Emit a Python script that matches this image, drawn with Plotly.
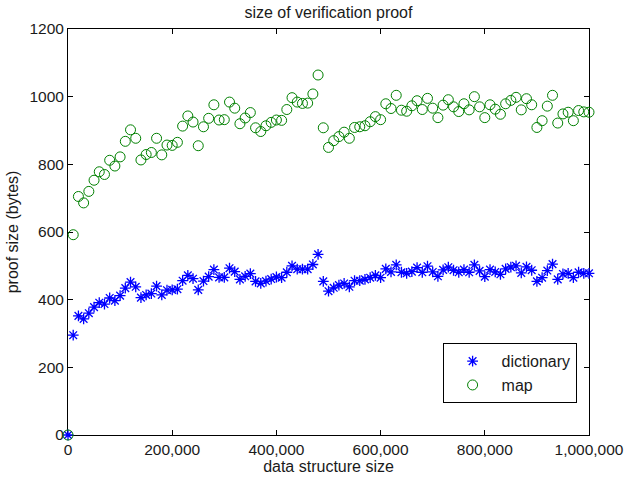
import plotly.graph_objects as go

sizes = [i * 10000 for i in range(101)]

dictionary = [0, 295, 352, 343, 360, 378, 391, 387, 405, 397,
              412, 434, 452, 438, 406, 414, 418, 440, 414, 428,
              429, 431, 456, 472, 462, 429, 455, 468, 489, 466,
              466, 493, 483, 460, 469, 477, 454, 448, 455, 461,
              467, 465, 481, 500, 490, 490, 490, 504, 534, 454,
              425, 435, 443, 448, 438, 456, 456, 460, 465, 472,
              465, 491, 482, 503, 481, 478, 483, 495, 481, 499,
              482, 469, 488, 496, 487, 481, 489, 481, 503, 485,
              468, 489, 482, 475, 491, 496, 500, 479, 497, 487,
              454, 465, 486, 505, 460, 476, 478, 465, 481, 478,
              478]

map_vals = [0, 592, 705, 686, 720, 753, 778, 770, 812, 795,
            822, 868, 902, 877, 813, 829, 835, 877, 828, 857,
            856, 865, 913, 943, 925, 855, 911, 936, 976, 931,
            932, 984, 966, 920, 937, 953, 908, 897, 914, 924,
            931, 930, 962, 997, 984, 980, 981, 1008, 1064, 908,
            850, 870, 882, 895, 877, 909, 911, 914, 926, 941,
            932, 979, 965, 1004, 960, 957, 973, 988, 962, 995,
            966, 938, 975, 991, 970, 956, 979, 961, 1000, 970,
            938, 976, 963, 948, 979, 989, 998, 961, 994, 976,
            909, 929, 972, 1004, 922, 949, 954, 929, 959, 955,
            954]

x_ticks = [0, 200000, 400000, 600000, 800000, 1000000]
y_ticks = [0, 200, 400, 600, 800, 1000, 1200]

font = dict(family="Liberation Sans, Arial, Helvetica, sans-serif", size=16, color="#1a1a1a")
tick_font = dict(family="Liberation Sans, Arial, Helvetica, sans-serif", size=15.5, color="#1a1a1a")

fig = go.Figure()
fig.add_trace(go.Scatter(
    x=sizes, y=dictionary, mode="markers", name="dictionary", cliponaxis=False,
    marker=dict(symbol="asterisk-open", size=9, color="#0000ff",
                line=dict(color="#0000ff", width=1.3)),
))
fig.add_trace(go.Scatter(
    x=sizes, y=map_vals, mode="markers", name="map", cliponaxis=False,
    marker=dict(symbol="circle-open", size=10, color="#008000",
                line=dict(color="#008000", width=1)),
))

axis_common = dict(
    showgrid=False, zeroline=False, showline=True, linecolor="black", linewidth=1,
    mirror="ticks", ticks="inside", ticklen=5, tickcolor="black", tickwidth=1,
    tickfont=tick_font, automargin=False, layer="below traces",
)

fig.update_layout(
    width=627, height=480,
    margin=dict(l=68, r=38, t=29, b=45, autoexpand=False),
    paper_bgcolor="white", plot_bgcolor="white",
    font=font,
    title=dict(text="size of verification proof", x=0.5238, xanchor="center",
               y=1 - 12 / 480, yanchor="middle", font=font, automargin=False),
    xaxis=dict(range=[0, 1000000], tickvals=x_ticks,
               ticktext=[f"{v:,}" for v in x_ticks],
               title=dict(text="data structure size", font=font, standoff=2),
               **axis_common),
    yaxis=dict(range=[0, 1200], tickvals=y_ticks,
               ticktext=[str(v) for v in y_ticks],
               title=dict(text="proof size (bytes)", font=font, standoff=6),
               **axis_common),
    legend=dict(x=0.719, y=0.226, xanchor="left", yanchor="top",
                bgcolor="white", bordercolor="black", borderwidth=1,
                font=font, itemwidth=48),
    showlegend=True,
)

fig.write_html("out.html", config={"displayModeBar": False},
               post_script="document.body.style.margin='0';")
